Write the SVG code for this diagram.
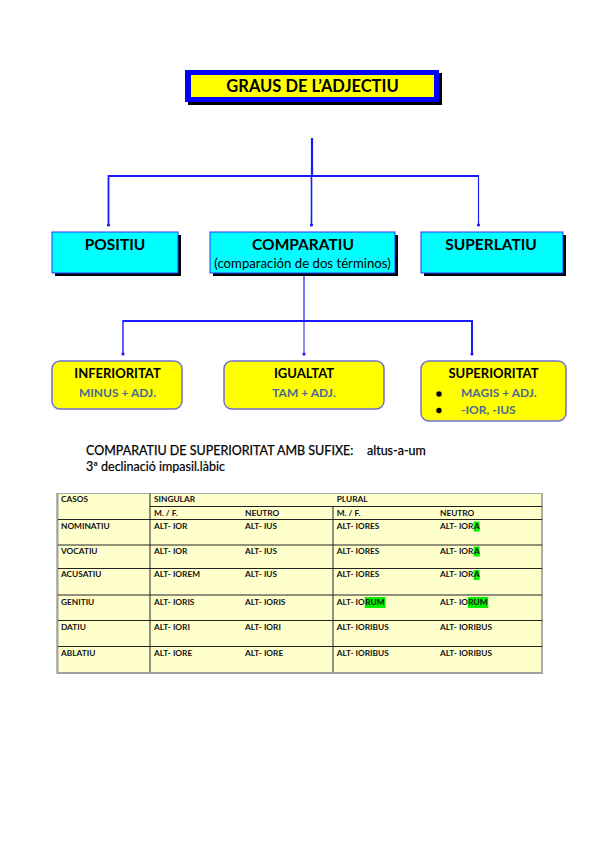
<svg xmlns="http://www.w3.org/2000/svg" width="600" height="848" viewBox="0 0 600 848">
<style>
.t{font-family:Lato,"Open Sans","Liberation Sans",sans-serif;}
.b{font-weight:bold;}
.ttl{font-size:16.5px;font-weight:bold;fill:#000;text-anchor:middle;}
.cy{fill:#00FFFF;stroke:#3333FF;stroke-width:1;}
.sh{fill:#000;}
.yb{fill:#FFFF00;stroke:#7070D0;stroke-width:1.5;}
.h1{font-size:15.5px;font-weight:bold;text-anchor:middle;fill:#000;}
.h2{font-size:13px;font-weight:bold;text-anchor:middle;fill:#000;}
.sub{font-size:12px;font-weight:bold;fill:#4A6A94;}
.ln{stroke:#1A1AFF;fill:none;}
.tb{font-size:8.3px;font-weight:bold;fill:#111;}
.tl{stroke:#222;stroke-width:1;}
.hl{fill:#00F000;}
</style>
<defs>
<marker id="dot" markerWidth="4" markerHeight="4" refX="2" refY="2" markerUnits="userSpaceOnUse">
<circle cx="2" cy="2" r="1.6" fill="#1A1AFF"/>
</marker>
</defs>

<g id="connectors">
<line class="ln" x1="312" y1="138" x2="312" y2="176" stroke-width="2.2"/>
<line class="ln" x1="108.5" y1="176" x2="479" y2="176" stroke-width="2"/>
<line class="ln" x1="108.5" y1="175" x2="108.5" y2="225" stroke-width="1.8" marker-end="url(#dot)"/>
<line class="ln" x1="311.5" y1="175" x2="311.5" y2="225" stroke-width="1.6" marker-end="url(#dot)"/>
<line class="ln" x1="478.5" y1="175" x2="478.5" y2="225" stroke-width="1.2" marker-end="url(#dot)"/>
<line class="ln" x1="304" y1="275" x2="304" y2="321" stroke-width="1.2"/>
<line class="ln" x1="123" y1="321" x2="472" y2="321" stroke-width="2"/>
<line class="ln" x1="123" y1="320" x2="123" y2="354" stroke-width="1.4" marker-end="url(#dot)"/>
<line class="ln" x1="304" y1="320" x2="304" y2="354" stroke-width="1" marker-end="url(#dot)"/>
<line class="ln" x1="472" y1="320" x2="472" y2="354" stroke-width="2" marker-end="url(#dot)"/>
</g>

<g id="title">
<rect class="sh" x="188" y="73" width="254" height="32"/>
<rect x="185" y="70" width="254" height="32" fill="#0000FF"/>
<rect x="191" y="75" width="243" height="22" fill="#FFFF00"/>
<text class="t ttl" x="312.5" y="92">GRAUS DE L’ADJECTIU</text>
</g>

<g id="positiu">
<rect class="sh" x="55" y="235" width="126" height="41"/>
<rect class="cy" x="52" y="232" width="126" height="41"/>
<text class="t h1" x="115" y="249.5">POSITIU</text>
</g>

<g id="comparatiu">
<rect class="sh" x="213" y="235" width="185" height="41"/>
<rect class="cy" x="210" y="232" width="185" height="41"/>
<text class="t h1" x="303" y="249.5">COMPARATIU</text>
<text class="t" x="302.5" y="268" font-size="13.2" text-anchor="middle" fill="#000">(comparación de dos términos)</text>
</g>

<g id="superlatiu">
<rect class="sh" x="424" y="235" width="142" height="41"/>
<rect class="cy" x="421" y="232" width="142" height="41"/>
<text class="t h1" x="491" y="249.5">SUPERLATIU</text>
</g>

<g id="inferioritat">
<rect class="yb" x="52" y="361" width="130" height="48" rx="8"/>
<text class="t h2" x="117.5" y="378">INFERIORITAT</text>
<text class="t sub" x="117.5" y="396.5" text-anchor="middle">MINUS + ADJ.</text>
</g>

<g id="igualtat">
<rect class="yb" x="224" y="361" width="160" height="48" rx="8"/>
<text class="t h2" x="304" y="378">IGUALTAT</text>
<text class="t sub" x="304" y="396.5" text-anchor="middle">TAM + ADJ.</text>
</g>

<g id="superioritat">
<rect class="yb" x="421" y="361" width="145" height="60" rx="8"/>
<text class="t h2" x="493.5" y="378">SUPERIORITAT</text>
<circle cx="439" cy="394" r="2.7" fill="#000"/>
<circle cx="439" cy="410.5" r="2.7" fill="#000"/>
<text class="t sub" x="461" y="397">MAGIS + ADJ.</text>
<text class="t sub" x="461" y="413.5">-IOR, -IUS</text>
</g>

<g id="heading" class="t" font-size="12.5" fill="#000">
<text x="86" y="455" stroke="#000" stroke-width="0.25">COMPARATIU DE SUPERIORITAT AMB SUFIXE:</text>
<text x="367" y="455" stroke="#000" stroke-width="0.25">altus-a-um</text>
<text x="86" y="471" stroke="#000" stroke-width="0.2">3ª declinació impasil.làbic</text>
</g>

<g id="table">
<rect x="57" y="493.5" width="485" height="179" fill="#FFFFCC" stroke="#A8A8A8" stroke-width="1"/>
<line x1="57.5" y1="493" x2="57.5" y2="674" stroke="#A0A0A0" stroke-width="2"/>
<line x1="542" y1="493" x2="542" y2="674" stroke="#A0A0A0" stroke-width="1.6"/>
<line x1="57" y1="673" x2="543" y2="673" stroke="#A0A0A0" stroke-width="2"/>
<line class="tl" x1="150" y1="493.5" x2="150" y2="672"/>
<line class="tl" x1="333" y1="506.5" x2="333" y2="672"/>
<line class="tl" x1="150" y1="506.5" x2="542" y2="506.5"/>
<line class="tl" x1="58" y1="519.5" x2="542" y2="519.5"/>
<line class="tl" x1="58" y1="545" x2="542" y2="545"/>
<line class="tl" x1="58" y1="568.5" x2="542" y2="568.5"/>
<line class="tl" x1="58" y1="595" x2="542" y2="595"/>
<line class="tl" x1="58" y1="620.5" x2="542" y2="620.5"/>
<line class="tl" x1="58" y1="646.5" x2="542" y2="646.5"/>

<rect class="hl" x="473.6" y="521.5" width="6" height="10"/>
<rect class="hl" x="473.6" y="546.5" width="6" height="10"/>
<rect class="hl" x="473.6" y="570" width="6" height="10"/>
<rect class="hl" x="364.8" y="597" width="20.7" height="11"/>
<rect class="hl" x="467.8" y="597" width="20.4" height="11"/>

<g class="t tb">
<text x="61" y="501.5">CASOS</text>
<text x="154" y="501.5">SINGULAR</text>
<text x="336.7" y="501.5">PLURAL</text>
<text x="154" y="516">M. / F.</text>
<text x="245" y="516">NEUTRO</text>
<text x="336.7" y="516">M. / F.</text>
<text x="440" y="516">NEUTRO</text>

<text x="61" y="528.5">NOMINATIU</text>
<text x="154" y="528.5">ALT- IOR</text>
<text x="245" y="528.5">ALT- IUS</text>
<text x="336.7" y="528.5">ALT- IORES</text>
<text x="440" y="528.5">ALT- IOR</text><text x="474" y="528.5">A</text>

<text x="61" y="553.5">VOCATIU</text>
<text x="154" y="553.5">ALT- IOR</text>
<text x="245" y="553.5">ALT- IUS</text>
<text x="336.7" y="553.5">ALT- IORES</text>
<text x="440" y="553.5">ALT- IOR</text><text x="474" y="553.5">A</text>

<text x="61" y="577">ACUSATIU</text>
<text x="154" y="577">ALT- IOREM</text>
<text x="245" y="577">ALT- IUS</text>
<text x="336.7" y="577">ALT- IORES</text>
<text x="440" y="577">ALT- IOR</text><text x="474" y="577">A</text>

<text x="61" y="605">GENITIU</text>
<text x="154" y="605">ALT- IORIS</text>
<text x="245" y="605">ALT- IORIS</text>
<text x="336.7" y="605">ALT- IO</text><text x="365.3" y="605">RUM</text>
<text x="440" y="605">ALT- IO</text><text x="468.3" y="605">RUM</text>

<text x="61" y="630">DATIU</text>
<text x="154" y="630">ALT- IORI</text>
<text x="245" y="630">ALT- IORI</text>
<text x="336.7" y="630">ALT- IORIBUS</text>
<text x="440" y="630">ALT- IORIBUS</text>

<text x="61" y="655.5">ABLATIU</text>
<text x="154" y="655.5">ALT- IORE</text>
<text x="245" y="655.5">ALT- IORE</text>
<text x="336.7" y="655.5">ALT- IORIBUS</text>
<text x="440" y="655.5">ALT- IORIBUS</text>
</g>
</g>
</svg>
